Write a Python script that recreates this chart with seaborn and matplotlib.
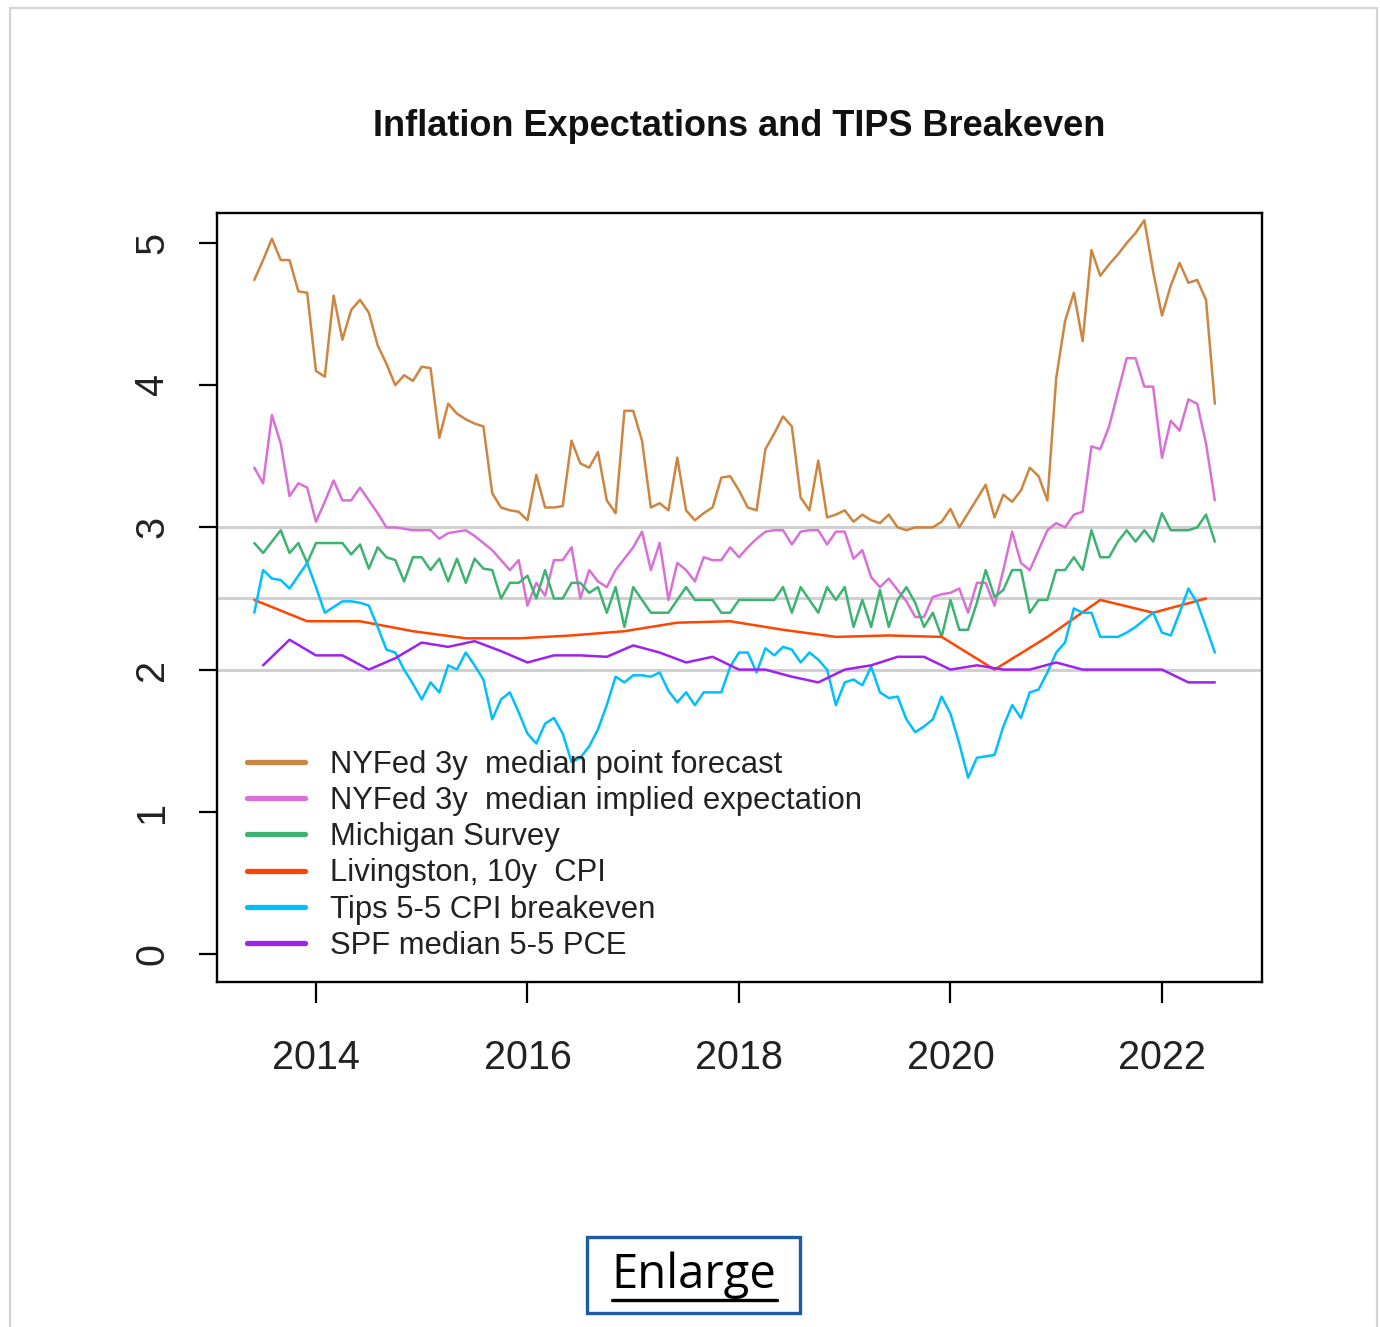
import numpy as np
import pandas as pd
import matplotlib
matplotlib.use("Agg")
import matplotlib.pyplot as plt
import seaborn as sns
from matplotlib.lines import Line2D
from matplotlib.patches import Rectangle

# ---------------- data ----------------
monthly_start = "2013-06-01"   # monthly series start (Jun 2013)

nyfed_point = [
    4.74, 4.88, 5.03, 4.88, 4.88, 4.66, 4.65, 4.10, 4.06, 4.63,
    4.32, 4.53, 4.60, 4.51, 4.28, 4.15, 4.00, 4.07, 4.03, 4.13,
    4.12, 3.63, 3.87, 3.80, 3.76, 3.73, 3.71, 3.24, 3.14, 3.12,
    3.11, 3.05, 3.37, 3.14, 3.14, 3.15, 3.61, 3.45, 3.42, 3.53,
    3.19, 3.10, 3.82, 3.82, 3.61, 3.14, 3.17, 3.12, 3.49, 3.12,
    3.05, 3.10, 3.14, 3.35, 3.36, 3.26, 3.14, 3.12, 3.55, 3.66,
    3.78, 3.71, 3.21, 3.12, 3.47, 3.07, 3.09, 3.12, 3.04, 3.09,
    3.05, 3.03, 3.09, 3.00, 2.98, 3.00, 3.00, 3.00, 3.04, 3.13,
    3.00, 3.10, 3.20, 3.30, 3.07, 3.23, 3.18, 3.26, 3.42, 3.36,
    3.19, 4.05, 4.45, 4.65, 4.31, 4.95, 4.77, 4.85, 4.92, 5.00,
    5.07, 5.16, 4.80, 4.49, 4.70, 4.86, 4.72, 4.74, 4.60, 3.87,
]

nyfed_implied = [
    3.42, 3.31, 3.79, 3.59, 3.22, 3.31, 3.28, 3.04, 3.18, 3.33,
    3.19, 3.19, 3.28, 3.19, 3.10, 3.00, 3.00, 2.99, 2.98, 2.98,
    2.98, 2.92, 2.96, 2.97, 2.98, 2.94, 2.89, 2.84, 2.77, 2.70,
    2.77, 2.45, 2.61, 2.52, 2.77, 2.77, 2.86, 2.50, 2.70, 2.62,
    2.58, 2.70, 2.78, 2.86, 2.97, 2.70, 2.89, 2.49, 2.75, 2.70,
    2.62, 2.79, 2.77, 2.77, 2.86, 2.79, 2.86, 2.92, 2.97, 2.98,
    2.98, 2.88, 2.97, 2.98, 2.98, 2.88, 2.97, 2.97, 2.78, 2.84,
    2.65, 2.58, 2.64, 2.56, 2.48, 2.37, 2.37, 2.51, 2.53, 2.54,
    2.57, 2.40, 2.61, 2.61, 2.45, 2.70, 2.97, 2.75, 2.70, 2.84,
    2.98, 3.03, 3.00, 3.09, 3.11, 3.57, 3.55, 3.71, 3.95, 4.19,
    4.19, 3.99, 3.99, 3.49, 3.75, 3.68, 3.90, 3.87, 3.59, 3.19,
]

michigan = [
    2.89, 2.82, 2.90, 2.98, 2.82, 2.89, 2.75, 2.89, 2.89, 2.89,
    2.89, 2.81, 2.88, 2.71, 2.86, 2.79, 2.77, 2.62, 2.79, 2.79,
    2.70, 2.78, 2.62, 2.78, 2.61, 2.78, 2.71, 2.70, 2.50, 2.61,
    2.61, 2.66, 2.50, 2.70, 2.50, 2.50, 2.61, 2.61, 2.54, 2.58,
    2.40, 2.58, 2.30, 2.58, 2.49, 2.40, 2.40, 2.40, 2.49, 2.58,
    2.49, 2.49, 2.49, 2.40, 2.40, 2.49, 2.49, 2.49, 2.49, 2.49,
    2.58, 2.40, 2.58, 2.49, 2.40, 2.58, 2.49, 2.58, 2.30, 2.49,
    2.30, 2.56, 2.30, 2.49, 2.58, 2.47, 2.30, 2.40, 2.23, 2.49,
    2.28, 2.28, 2.47, 2.70, 2.51, 2.56, 2.70, 2.70, 2.40, 2.49,
    2.49, 2.70, 2.70, 2.79, 2.70, 2.98, 2.79, 2.79, 2.90, 2.98,
    2.90, 2.98, 2.90, 3.10, 2.98, 2.98, 2.98, 3.00, 3.09, 2.90,
]

tips_breakeven = [
    2.40, 2.70, 2.64, 2.63, 2.57, 2.66, 2.75, 2.58, 2.40, 2.44,
    2.48, 2.48, 2.47, 2.45, 2.30, 2.14, 2.12, 2.00, 1.90, 1.79,
    1.91, 1.84, 2.03, 2.00, 2.12, 2.03, 1.93, 1.65, 1.79, 1.84,
    1.70, 1.55, 1.48, 1.62, 1.66, 1.55, 1.35, 1.38, 1.46, 1.58,
    1.75, 1.95, 1.91, 1.96, 1.96, 1.95, 1.98, 1.85, 1.77, 1.84,
    1.75, 1.84, 1.84, 1.84, 2.02, 2.12, 2.12, 1.98, 2.15, 2.10,
    2.16, 2.14, 2.05, 2.12, 2.07, 2.00, 1.75, 1.91, 1.93, 1.89,
    2.02, 1.84, 1.80, 1.81, 1.65, 1.56, 1.60, 1.65, 1.81, 1.69,
    1.48, 1.24, 1.38, 1.39, 1.40, 1.60, 1.75, 1.66, 1.84, 1.86,
    1.98, 2.12, 2.19, 2.43, 2.40, 2.40, 2.23, 2.23, 2.23, 2.26,
    2.30, 2.35, 2.40, 2.26, 2.24, 2.40, 2.57, 2.47, 2.30, 2.12,
]

livingston_start = "2013-06-01"   # semi-annual survey
livingston = [2.49, 2.34, 2.34, 2.27, 2.22, 2.22, 2.24, 2.27, 2.33, 2.34,
              2.28, 2.23, 2.24, 2.23, 2.00, 2.23, 2.49, 2.40, 2.50]

spf_start = "2013-07-01"          # quarterly survey
spf = [2.03, 2.21, 2.10, 2.10, 2.00, 2.08, 2.19, 2.16, 2.20, 2.13,
       2.05, 2.10, 2.10, 2.09, 2.17, 2.12, 2.05, 2.09, 2.00, 2.00,
       1.95, 1.91, 2.00, 2.03, 2.09, 2.09, 2.00, 2.03, 2.00, 2.00,
       2.05, 2.00, 2.00, 2.00, 2.00, 1.91, 1.91]

series_names = ["NYFed 3y  median point forecast",
                "NYFed 3y  median implied expectation",
                "Michigan Survey",
                "Livingston, 10y  CPI",
                "Tips 5-5 CPI breakeven",
                "SPF median 5-5 PCE"]
series_colors = ["#CD853F", "#DA70D6", "#3CB371", "#FF4500", "#00BFFF", "#A020F0"]

ref_levels = [2.0, 2.5, 3.0]
x_ticks = [2014, 2016, 2018, 2020, 2022]
y_ticks = [0, 1, 2, 3, 4, 5]
title = "Inflation Expectations and TIPS Breakeven"


def decimal_years(start, n, freq):
    d = pd.date_range(start, periods=n, freq=freq)
    return d.year + (d.month - 1) / 12.0


frames = []
for name, vals, start, freq in [
    (series_names[0], nyfed_point, monthly_start, "MS"),
    (series_names[1], nyfed_implied, monthly_start, "MS"),
    (series_names[2], michigan, monthly_start, "MS"),
    (series_names[3], livingston, livingston_start, "6MS"),
    (series_names[4], tips_breakeven, monthly_start, "MS"),
    (series_names[5], spf, spf_start, "3MS"),
]:
    frames.append(pd.DataFrame({"year": decimal_years(start, len(vals), freq),
                                "value": vals, "series": name}))
df = pd.concat(frames, ignore_index=True)

# ---------------- figure ----------------
sns.set_theme(style="white")
plt.rcParams["font.family"] = ["Liberation Sans", "DejaVu Sans"]

W, H = 1380, 1327
fig = plt.figure(figsize=(W / 100, H / 100), dpi=100)
fig.patch.set_facecolor("white")

# page border
fig.add_artist(Rectangle((10 / W, -0.01), (1377 - 10) / W, 1 - 8 / H + 0.01,
                         transform=fig.transFigure, fill=False,
                         edgecolor="#D4D4D4", lw=1.6))

ax = fig.add_axes([217 / W, 1 - 982 / H, (1262 - 217) / W, (982 - 213) / H])
ax.set_facecolor("white")

for lv in ref_levels:
    ax.axhline(lv, color="#D0D0D0", lw=2.2, zorder=1)

palette = dict(zip(series_names, series_colors))
sns.lineplot(data=df, x="year", y="value", hue="series", hue_order=series_names,
             palette=palette, estimator=None, sort=False, legend=False,
             lw=1.8, ax=ax, zorder=3)

ax.set_xlim(2013.064, 2022.946)
ax.set_ylim(-0.197, 5.211)
ax.set_xticks(x_ticks)
ax.set_xticklabels([str(t) for t in x_ticks], fontsize=28.5, color="#222222")
ax.set_yticks(y_ticks)
ax.set_yticklabels([str(t) for t in y_ticks], fontsize=28.5, color="#222222",
                   rotation=90, va="center")
ax.tick_params(axis="x", direction="out", length=15, width=1.6, color="black",
               pad=26, bottom=True)
ax.tick_params(axis="y", direction="out", length=13, width=1.6, color="black",
               pad=20, left=True)
ax.set_xlabel("")
ax.set_ylabel("")
for sp in ax.spines.values():
    sp.set_visible(True)
    sp.set_color("black")
    sp.set_linewidth(1.7)
ax.grid(False)

handles = [Line2D([0], [0], color=c, lw=3.8) for c in series_colors]
leg = ax.legend(handles, series_names, loc="upper left",
                bbox_to_anchor=(0.029, 0.302), frameon=False, fontsize=22.3,
                handlelength=1.87, handletextpad=0.8, labelspacing=0.2,
                borderaxespad=0, borderpad=0)
for t in leg.get_texts():
    t.set_color("#222222")

fig.text((217 + 1262) / 2 / W, 1 - 126 / H, title, ha="center", va="center",
         fontsize=26, fontweight="bold", color="#111111")

# "Enlarge" link box
fig.add_artist(Rectangle((587 / W, 1 - 1313 / H), (800 - 587) / W, (1313 - 1237) / H,
                         transform=fig.transFigure, fill=False,
                         edgecolor="#1F5AA6", lw=2.4))
fig.text(694 / W, 1 - 1275 / H, "Enlarge", ha="center", va="center",
         fontsize=34, color="black", family=["Open Sans", "DejaVu Sans"])
fig.add_artist(Line2D([612 / W, 777 / W], [1 - 1300 / H, 1 - 1300 / H],
                      transform=fig.transFigure, color="black", lw=2.4))

fig.savefig("out.png", dpi=100, facecolor="white")
